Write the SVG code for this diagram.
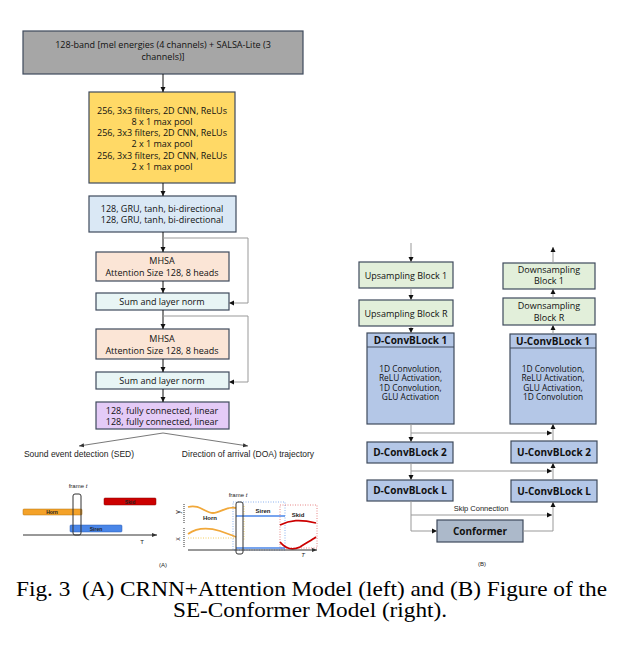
<svg xmlns="http://www.w3.org/2000/svg" width="618" height="647" viewBox="0 0 618 647">
<style>
.bx{stroke:#3e4a5c;stroke-width:1.2}
.t{font-family:"Open Sans","Noto Sans",sans-serif;font-size:9px;fill:#111;text-anchor:middle}
.ts{font-family:"Open Sans","Noto Sans",sans-serif;font-size:8.4px;fill:#111;text-anchor:middle}
.tb{font-family:"Open Sans","Noto Sans",sans-serif;font-size:10px;font-weight:bold;fill:#111;text-anchor:middle}
.ar{font-family:"Liberation Sans",Arial,sans-serif;fill:#222;text-anchor:middle}
.c{stroke:#111;stroke-width:1;fill:none}
.g{stroke:#999;stroke-width:1;fill:none}
.cap{font-family:"Liberation Serif","Times New Roman",serif;font-size:22px;fill:#000}
</style>
<defs>
<marker id="ah" markerWidth="6" markerHeight="6" refX="5" refY="3" orient="auto" markerUnits="userSpaceOnUse"><path d="M0,0.5 L5,3 L0,5.5 Z" fill="#111"/></marker>
<marker id="as" markerWidth="6" markerHeight="6" refX="5" refY="3" orient="auto" markerUnits="userSpaceOnUse"><path d="M0,1 L5,3 L0,5 Z" fill="#333"/></marker>
</defs>
<rect width="618" height="647" fill="#fff"/>

<!-- Part A nodes -->
<g id="input"><rect class="bx" x="23" y="31" width="280" height="43" fill="#a6a6a6"/>
<text class="t" x="163" y="48">128-band [mel energies (4 channels) + SALSA-Lite (3</text>
<text class="t" x="163" y="60">channels)]</text></g>
<g id="cnn"><rect class="bx" x="89" y="92" width="146" height="91" fill="#ffd966"/>
<text class="t" x="162" y="113.5">256, 3x3 filters, 2D CNN, ReLUs</text>
<text class="t" x="162" y="124.8">8 x 1 max pool</text>
<text class="t" x="162" y="136.1">256, 3x3 filters, 2D CNN, ReLUs</text>
<text class="t" x="162" y="147.4">2 x 1 max pool</text>
<text class="t" x="162" y="158.7">256, 3x3 filters, 2D CNN, ReLUs</text>
<text class="t" x="162" y="170">2 x 1 max pool</text></g>
<g id="gru"><rect class="bx" x="89" y="196" width="147" height="36" fill="#dae8f5"/>
<text class="t" x="162" y="212">128, GRU, tanh, bi-directional</text>
<text class="t" x="162" y="223">128, GRU, tanh, bi-directional</text></g>
<g id="mhsa1"><rect class="bx" x="96" y="252" width="133" height="29" fill="#fbe5d6"/>
<text class="t" x="162" y="264">MHSA</text>
<text class="t" x="162" y="276">Attention Size 128, 8 heads</text></g>
<g id="sum1"><rect class="bx" x="96" y="293" width="133" height="17" fill="#e8f5f5"/>
<text class="t" x="162" y="305">Sum and layer norm</text></g>
<g id="mhsa2"><rect class="bx" x="96" y="329" width="133" height="30" fill="#fbe5d6"/>
<text class="t" x="162" y="342">MHSA</text>
<text class="t" x="162" y="354">Attention Size 128, 8 heads</text></g>
<g id="sum2"><rect class="bx" x="96" y="372" width="133" height="17" fill="#e8f5f5"/>
<text class="t" x="162" y="384">Sum and layer norm</text></g>
<g id="fc"><rect class="bx" x="96" y="402" width="133" height="27" fill="#e4cbf7"/>
<text class="t" x="162" y="414">128, fully connected, linear</text>
<text class="t" x="162" y="425">128, fully connected, linear</text></g>
<g id="outputs">
<text class="ar" x="79" y="457" font-size="8.5">Sound event detection (SED)</text>
<text class="ar" x="248" y="457" font-size="8.5">Direction of arrival (DOA) trajectory</text></g>

<!-- Part A connectors -->
<g id="connectors-a">
<line class="c" x1="163" y1="74" x2="163" y2="92" marker-end="url(#ah)"/>
<line class="c" x1="163" y1="183" x2="163" y2="196" marker-end="url(#ah)"/>
<line class="c" x1="163" y1="232" x2="163" y2="252" marker-end="url(#ah)"/>
<polyline class="g" points="163,238 248,238 248,303 229,303" marker-end="url(#ah)"/>
<line class="c" x1="163" y1="281" x2="163" y2="293" marker-end="url(#ah)"/>
<line class="c" x1="163" y1="310" x2="163" y2="329" marker-end="url(#ah)"/>
<polyline class="g" points="163,316 248,316 248,382 229,382" marker-end="url(#ah)"/>
<line class="c" x1="163" y1="359" x2="163" y2="372" marker-end="url(#ah)"/>
<line class="c" x1="163" y1="389" x2="163" y2="402" marker-end="url(#ah)"/>
<line stroke="#555" stroke-width="0.8" x1="163" y1="433" x2="79" y2="446" marker-end="url(#as)"/>
<line stroke="#555" stroke-width="0.8" x1="163" y1="433" x2="248" y2="446" marker-end="url(#as)"/>
</g>

<!-- SED illustration -->
<g id="sed-illustration">
<text class="ar" x="78" y="488" font-size="6" fill="#444">frame <tspan font-style="italic">t</tspan></text>
<rect x="104" y="498" width="52" height="7" rx="1" fill="#cc0000" stroke="#8b0000" stroke-width="0.5"/>
<text class="ar" x="130" y="503.5" font-size="5" font-weight="bold" fill="#500">Skid</text>
<rect x="23" y="509" width="59" height="6" rx="1" fill="#f4a229" stroke="#b07010" stroke-width="0.5"/>
<text class="ar" x="52" y="514" font-size="5" font-weight="bold" fill="#402000">Horn</text>
<rect x="70" y="525" width="52" height="7" rx="1" fill="#4a86e8" stroke="#2a5bb0" stroke-width="0.5"/>
<text class="ar" x="96" y="530.5" font-size="5" font-weight="bold" fill="#0a2050">Siren</text>
<line x1="23" y1="535" x2="157" y2="535" stroke="#333" stroke-width="1" marker-end="url(#as)"/>
<text class="ar" x="142" y="544" font-size="6" fill="#444">T</text>
<rect x="73" y="494" width="8" height="41" rx="2" fill="none" stroke="#333" stroke-width="1"/>
</g>

<!-- DOA illustration -->
<g id="doa-illustration">
<text class="ar" x="238" y="497" font-size="6" fill="#444">frame <tspan font-style="italic">t</tspan></text>
<text class="ar" x="180" y="512" font-size="7" fill="#333" transform="rotate(-90 180 512)">y</text>
<text class="ar" x="180" y="539" font-size="7" fill="#333" transform="rotate(-90 180 539)">x</text>
<line x1="184" y1="504" x2="184" y2="523" stroke="#777" stroke-width="1.5" stroke-dasharray="1 1"/>
<line x1="184" y1="528" x2="184" y2="548" stroke="#777" stroke-width="1.5" stroke-dasharray="1 1"/>
<rect x="233" y="502" width="52" height="48" fill="none" stroke="#6d9eeb" stroke-width="0.8" stroke-dasharray="1 1.5"/>
<rect x="280" y="505" width="37" height="43" fill="none" stroke="#e06666" stroke-width="0.8" stroke-dasharray="1 1.5"/>
<line x1="188" y1="538" x2="236" y2="538" stroke="#f1c232" stroke-width="0.8" stroke-dasharray="1 1.5"/>
<line x1="244" y1="506" x2="244" y2="540" stroke="#f1c232" stroke-width="0.8" stroke-dasharray="1 1.5"/>
<path d="M188,507 C200,504 205,513 213,513 C220,513 226,506 236,508" fill="none" stroke="#f1a83a" stroke-width="1.8"/>
<path d="M188,534 C198,527 210,528 220,531 C228,534 232,535 236,537" fill="none" stroke="#f1a83a" stroke-width="1.8"/>
<line x1="236" y1="516" x2="285" y2="516" stroke="#4a86e8" stroke-width="1.5"/>
<line x1="236" y1="548" x2="285" y2="548" stroke="#4a86e8" stroke-width="1.5"/>
<path d="M280,525 C290,520 300,519 316,523" fill="none" stroke="#cc0000" stroke-width="1.8"/>
<path d="M280,542 C285,548 292,551 300,547 C306,543 312,540 316,537" fill="none" stroke="#cc0000" stroke-width="1.8"/>
<line x1="188" y1="550" x2="317" y2="550" stroke="#333" stroke-width="1" marker-end="url(#as)"/>
<text class="ar" x="303" y="557" font-size="6" font-style="italic" fill="#444">T</text>
<rect x="236" y="502" width="7" height="52" rx="2" fill="none" stroke="#333" stroke-width="1"/>
<text class="ar" x="210" y="520" font-size="6" font-weight="bold" fill="#222">Horn</text>
<text class="ar" x="263" y="513" font-size="6" font-weight="bold" fill="#222">Siren</text>
<text class="ar" x="298" y="517" font-size="6" font-weight="bold" fill="#222">Skid</text>
</g>
<text class="ar" x="163" y="567" font-size="6" fill="#333">(A)</text>

<!-- Part B nodes -->
<g id="up1"><rect class="bx" x="359" y="262" width="94" height="26" fill="#e2efda"/>
<text class="t" x="406" y="278.5">Upsampling Block 1</text></g>
<g id="upR"><rect class="bx" x="359" y="300" width="94" height="26" fill="#e2efda"/>
<text class="t" x="406" y="316.5">Upsampling Block R</text></g>
<g id="d1"><rect class="bx" x="367" y="333" width="87" height="91" fill="#b4c7e7"/>
<line class="bx" x1="367" y1="347" x2="454" y2="347"/>
<text class="tb" x="410.5" y="344">D-ConvBLock 1</text>
<text class="ts" x="410.5" y="371.5">1D Convolution,</text>
<text class="ts" x="410.5" y="381">ReLU Activation,</text>
<text class="ts" x="410.5" y="390.5">1D Convolution,</text>
<text class="ts" x="410.5" y="400">GLU Activation</text></g>
<g id="d2"><rect class="bx" x="367" y="442" width="86" height="21" fill="#b4c7e7"/>
<text class="tb" x="410" y="456">D-ConvBLock 2</text></g>
<g id="dL"><rect class="bx" x="367" y="480" width="86" height="21" fill="#b4c7e7"/>
<text class="tb" x="410" y="494">D-ConvBLock L</text></g>
<g id="down1"><rect class="bx" x="503" y="263" width="92" height="26" fill="#e2efda"/>
<text class="t" x="549" y="272.5">Downsampling</text>
<text class="t" x="549" y="284">Block 1</text></g>
<g id="downR"><rect class="bx" x="503" y="298" width="92" height="27" fill="#e2efda"/>
<text class="t" x="549" y="309">Downsampling</text>
<text class="t" x="549" y="320.5">Block R</text></g>
<g id="u1"><rect class="bx" x="510" y="334" width="86" height="90" fill="#b4c7e7"/>
<line class="bx" x1="510" y1="348" x2="596" y2="348"/>
<text class="tb" x="553" y="345">U-ConvBLock 1</text>
<text class="ts" x="553" y="371.5">1D Convolution,</text>
<text class="ts" x="553" y="381">ReLU Activation,</text>
<text class="ts" x="553" y="390.5">GLU Activation,</text>
<text class="ts" x="553" y="400">1D Convolution</text></g>
<g id="u2"><rect class="bx" x="511" y="441" width="86" height="22" fill="#b4c7e7"/>
<text class="tb" x="554" y="455.5">U-ConvBLock 2</text></g>
<g id="uL"><rect class="bx" x="511" y="480" width="86" height="22" fill="#b4c7e7"/>
<text class="tb" x="554" y="494.5">U-ConvBLock L</text></g>
<g id="conformer"><rect class="bx" x="437" y="520" width="86" height="22" fill="#acb9ca"/>
<text class="tb" x="480" y="534.5">Conformer</text></g>

<!-- Part B connectors -->
<g id="connectors-b">
<line class="g" x1="411" y1="243" x2="411" y2="262" marker-end="url(#ah)"/>
<line class="g" x1="411" y1="288" x2="411" y2="300" marker-end="url(#ah)"/>
<line class="g" x1="411" y1="326" x2="411" y2="333" marker-end="url(#ah)"/>
<line class="g" x1="411" y1="424" x2="411" y2="442" marker-end="url(#ah)"/>
<line class="g" x1="411" y1="463" x2="411" y2="480" marker-end="url(#ah)"/>
<polyline class="g" points="411,501 411,531 437,531" marker-end="url(#ah)"/>
<line class="g" x1="411" y1="433" x2="552" y2="433" marker-end="url(#ah)"/>
<line class="g" x1="411" y1="471" x2="552" y2="471" marker-end="url(#ah)"/>
<line class="g" x1="411" y1="515" x2="552" y2="515" marker-end="url(#ah)"/>
<polyline class="g" points="523,531 553,531 553,502" marker-end="url(#ah)"/>
<line class="g" x1="553" y1="480" x2="553" y2="463" marker-end="url(#ah)"/>
<line class="g" x1="553" y1="441" x2="553" y2="424" marker-end="url(#ah)"/>
<line class="g" x1="553" y1="334" x2="553" y2="325" marker-end="url(#ah)"/>
<line class="g" x1="553" y1="298" x2="553" y2="289" marker-end="url(#ah)"/>
<line class="g" x1="553" y1="263" x2="553" y2="247" marker-end="url(#ah)"/>
<text class="ar" x="481" y="511" font-size="7.5" fill="#444">Skip Connection</text>
</g>
<text class="ar" x="482" y="566" font-size="6" fill="#333">(B)</text>

<text class="cap" x="16" y="596" textLength="591" lengthAdjust="spacingAndGlyphs" xml:space="preserve">Fig. 3  (A) CRNN+Attention Model (left) and (B) Figure of the</text>
<text class="cap" x="173" y="617" textLength="274" lengthAdjust="spacingAndGlyphs">SE-Conformer Model (right).</text>
</svg>
